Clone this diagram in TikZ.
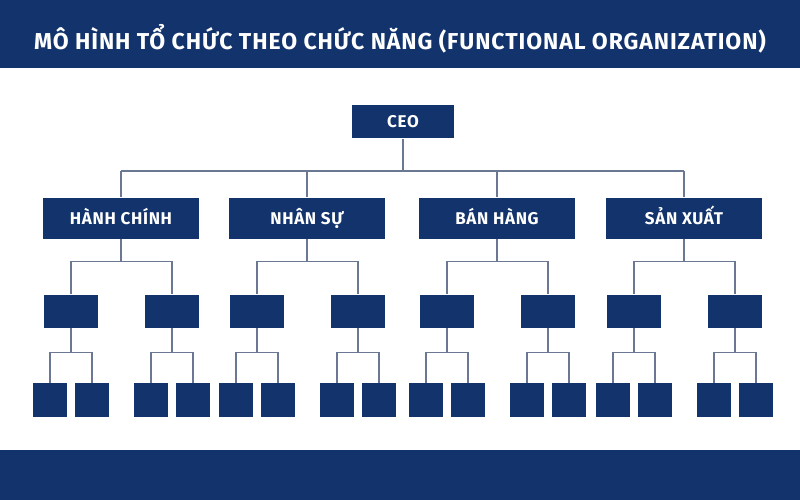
\documentclass[tikz,border=0pt]{standalone}
\usepackage{fontspec}
\setmainfont{Fira Sans}[LetterSpace=4]
\usetikzlibrary{positioning}
\definecolor{navy}{HTML}{12336B}
\definecolor{wire}{HTML}{6A7894}
\tikzset{every picture/.style={x=1pt,y=-1pt}}
\tikzset{dept/.style={fill=navy, text=white, font=\fontsize{17}{20}\selectfont\bfseries,
          minimum width=156pt, minimum height=41pt, inner sep=0pt, text height=12pt, text depth=0pt},
        unit/.style={fill=navy, minimum width=54pt, minimum height=33pt, inner sep=0pt},
        leaf/.style={fill=navy, minimum width=34pt, minimum height=34pt, inner sep=0pt},
        link/.style={draw=wire, line width=1.2pt},
}
\begin{document}
\begin{tikzpicture}
      \useasboundingbox (0,0) rectangle (800,500);
      % BANNERS
      \fill[navy] (0,0) rectangle (800,68);
      \fill[navy] (0,450) rectangle (800,500);
      \node[text=white, font=\fontsize{23}{26}\selectfont\bfseries] (title) at (400,39)
        {MÔ HÌNH TỔ CHỨC THEO CHỨC NĂNG (FUNCTIONAL ORGANIZATION)};

      % CEO
      \node[fill=navy, text=white, font=\fontsize{17}{20}\selectfont\bfseries,
            minimum width=102pt, minimum height=33pt] (ceo) at (403,122) {CEO};
      \coordinate (bus) at (403,171);
      \draw[link] (ceo.south) -- (bus);

      % DEPARTMENTS
      \foreach \name/\cx/\lbl in {hc/121/HÀNH CHÍNH, ns/307/NHÂN SỰ, bh/497/BÁN HÀNG, sx/684/SẢN XUẤT}{
        \node[dept] (\name) at (\cx,218) {\lbl};
        \draw[link] (\name.north) -- (\name.north |- bus);
        \foreach \s/\dx in {a/-50, b/51}{
          \node[unit] (\name\s) at (\cx+\dx,311) {};
          \draw[link] (\name.south) -- ++(0,23) -| (\name\s.north);
          \foreach \t/\ex in {1/-21, 2/21}{
            \node[leaf] (\name\s\t) at (\cx+\dx+\ex,400) {};
            \draw[link] (\name\s.south) -- ++(0,25) -| (\name\s\t.north);
          }
        }
      }
      \draw[link] (hc.north |- bus) -- (sx.north |- bus);
\end{tikzpicture}
\end{document}
